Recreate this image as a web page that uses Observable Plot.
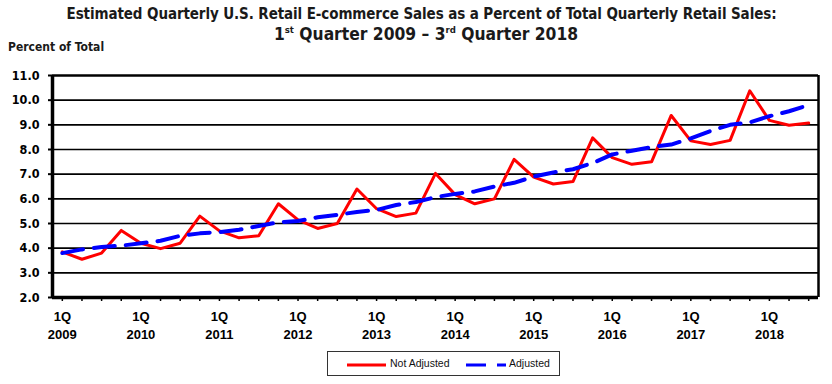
<!DOCTYPE html>
<html><head><meta charset="utf-8">
<script src="https://cdn.jsdelivr.net/npm/d3@7"></script>
<script src="https://cdn.jsdelivr.net/npm/@observablehq/plot@0.6"></script>
<style>
body{margin:0;background:#fff;}
#wrap{position:relative;width:832px;height:384px;overflow:hidden;background:#fff;}
#chart{position:absolute;left:0;top:0;}
.t1{position:absolute;left:0;width:843px;top:5px;text-align:center;font:bold 15px "DejaVu Sans Condensed",sans-serif;color:#1a1a1a;white-space:nowrap;letter-spacing:-0.1px;}
.t2{position:absolute;left:0;width:852px;top:24px;text-align:center;font:bold 17.3px "DejaVu Sans Condensed",sans-serif;color:#1a1a1a;white-space:nowrap;}
.t2 sup{font-size:0.55em;vertical-align:0.7em;line-height:0;}
.ylab{position:absolute;left:8px;top:40px;font:bold 12px "DejaVu Sans Condensed",sans-serif;color:#1a1a1a;white-space:nowrap;}
#legend{position:absolute;left:327px;top:351px;width:233px;height:25px;border:1px solid #333;box-sizing:border-box;}
#legend span{position:absolute;top:5px;font:10.5px "Liberation Sans",Arial,sans-serif;color:#111;white-space:nowrap;}
</style></head>
<body>
<div id="wrap">
  <div id="chart"></div>
  <div class="t1">Estimated Quarterly U.S. Retail E-commerce Sales as a Percent of Total Quarterly Retail Sales:</div>
  <div class="t2">1<sup>st</sup> Quarter 2009 – 3<sup>rd</sup> Quarter 2018</div>
  <div class="ylab">Percent of Total</div>
  <div id="legend">
    <svg width="233" height="25" style="position:absolute;left:0;top:0">
      <line x1="19" x2="58" y1="13" y2="13" stroke="#ff0000" stroke-width="3"/>
      <line x1="138" x2="178" y1="13" y2="13" stroke="#0000ff" stroke-width="3" stroke-dasharray="20,11"/>
    </svg>
    <span style="left:62px">Not Adjusted</span>
    <span style="left:181px">Adjusted</span>
  </div>
</div>
<script>
const years = [2009, 2010, 2011, 2012, 2013, 2014, 2015, 2016, 2017, 2018];
const quarterLabel = "1Q";
const notAdjusted = [3.85, 3.55, 3.8, 4.72, 4.2, 3.98, 4.2, 5.3, 4.7, 4.42,
  4.5, 5.8, 5.15, 4.8, 5.0, 6.4, 5.6, 5.28, 5.42, 7.03,
  6.17, 5.8, 6.0, 7.6, 6.88, 6.6, 6.7, 8.47, 7.67, 7.4,
  7.5, 9.38, 8.35, 8.2, 8.37, 10.38, 9.18, 8.98, 9.07];
const adjusted = [3.8, 3.95, 4.05, 4.1, 4.2, 4.3, 4.5, 4.6, 4.65, 4.75,
  4.9, 5.05, 5.1, 5.25, 5.35, 5.47, 5.55, 5.75, 5.87, 6.07,
  6.2, 6.3, 6.5, 6.65, 6.9, 7.07, 7.2, 7.45, 7.8, 7.95,
  8.1, 8.2, 8.45, 8.75, 9.0, 9.1, 9.35, 9.55, 9.8];
const yTicks = [2, 3, 4, 5, 6, 7, 8, 9, 10, 11];

const n = notAdjusted.length;
const qIdx = d3.range(n);
const yearData = years.map((y, i) => ({q: i * 4, label: quarterLabel + "\n" + y}));

const chart = Plot.plot({
  width: 832, height: 384,
  marginLeft: 52, marginRight: 14, marginTop: 75, marginBottom: 87,
  x: {domain: [-0.5, n - 0.5]},
  y: {domain: [2, 11]},
  style: {background: "transparent", color: "#000", overflow: "visible"},
  marks: [
    Plot.ruleY(yTicks.filter(v => v > 2 && v < 11), {stroke: "#000", strokeWidth: 1.6}),
    Plot.ruleY([11], {stroke: "#000", strokeWidth: 2.5}),
    Plot.axisY({ticks: yTicks, tickFormat: d => d.toFixed(1), tickSize: 4, tickPadding: 9,
      strokeWidth: 2, label: null, fontFamily: "DejaVu Sans Condensed", fontSize: 12.5, fontWeight: "bold", fill: "#000"}),
    Plot.axisX({ticks: qIdx, tickFormat: () => "", tickSize: 4, strokeWidth: 1.5, label: null}),
    Plot.text(yearData, {x: "q", y: 2, text: "label", dy: 11, lineAnchor: "top", lineHeight: 1.38,
      fontFamily: "Liberation Sans", fontSize: 13, fontWeight: "bold", fill: "#000"}),
    Plot.ruleX([-0.5], {stroke: "#000", strokeWidth: 3.5}),
    Plot.ruleX([n - 0.5], {stroke: "#000", strokeWidth: 2.5}),
    Plot.ruleY([2], {stroke: "#000", strokeWidth: 3.5}),
    Plot.line(notAdjusted, {x: (d, i) => i, y: d => d, stroke: "#ff0000", strokeWidth: 3}),
    Plot.line(adjusted, {x: (d, i) => i, y: d => d, stroke: "#0000ff", strokeWidth: 4, strokeDasharray: "21,11"})
  ]
});
document.getElementById("chart").appendChild(chart);
</script>
</body></html>
